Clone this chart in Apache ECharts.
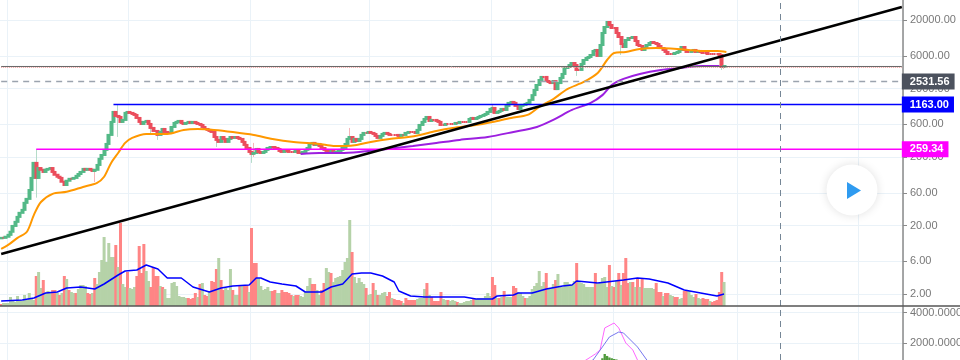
<!DOCTYPE html>
<html>
<head>
<meta charset="utf-8">
<script src="https://cdn.jsdelivr.net/npm/echarts@6/dist/echarts.min.js"></script>
<style>
	html, body { margin: 0; padding: 0; background: #fff; }
	#chart { width: 960px; height: 360px; }
</style>
</head>
<body>
<div id="chart"></div>
<script>
// price pane, one close per week
var closes = [
	13.2, 13.2, 13.7, 14.6, 16.2, 19.7, 22.6, 26.7, 30.6, 33.8,
	42.8, 48.9, 66, 99, 164, 99, 138, 130, 121, 130,
	134, 138, 121, 110, 103, 99, 87, 78, 90, 96,
	96, 99, 106, 113, 121, 134, 130, 134, 130, 125,
	130, 153, 188, 214, 254, 310, 420, 650, 909, 795,
	768, 650, 695, 880, 909, 880, 850, 822, 743, 650,
	607, 650, 672, 607, 531, 480, 480, 420, 464, 513,
	464, 449, 449, 549, 628, 650, 672, 628, 607, 628,
	650, 628, 650, 628, 607, 587, 549, 513, 497, 480,
	464, 392, 355, 332, 392, 367, 332, 367, 392, 380,
	392, 380, 367, 332, 300, 271, 237, 222, 229, 262,
	237, 229, 237, 254, 271, 280, 280, 271, 262, 245,
	237, 245, 245, 237, 237, 237, 245, 229, 229, 237,
	254, 271, 310, 321, 300, 310, 290, 271, 254, 245,
	237, 245, 229, 237, 245, 254, 271, 310, 367, 392,
	332, 367, 343, 367, 420, 449, 449, 464, 449, 434,
	406, 380, 406, 434, 449, 434, 420, 420, 420, 420,
	406, 420, 420, 449, 464, 464, 464, 449, 497, 587,
	650, 718, 768, 672, 695, 695, 672, 650, 587, 587,
	607, 607, 607, 607, 628, 628, 650, 650, 650, 650,
	718, 743, 718, 743, 768, 795, 822, 850, 909, 1006,
	1040, 880, 909, 941, 1006, 973, 1113, 1231, 1273, 1231,
	1113, 1006, 1113, 1151, 1191, 1231, 1362, 1600, 1900, 2250,
	2660, 2950, 2950, 2570, 2490, 2400, 2570, 1960, 2400, 2850,
	3260, 3980, 4120, 4400, 4710, 4400, 3730, 3730, 4560, 5210,
	5580, 5770, 6170, 7060, 7300, 5970, 8630, 12920, 15800, 18700,
	16900, 15280, 15280, 12920, 11290, 8920, 8070, 10210, 10920, 10920,
	11290, 9870, 8630, 8340, 7300, 7800, 8630, 9230, 9550, 9230,
	8920, 8340, 7800, 7300, 6830, 6380, 6380, 6380, 6600, 6830,
	7300, 8070, 7300, 6830, 6830, 7060, 7300, 6830, 7060, 6830,
	6600, 6600, 6380, 6380, 6380, 6380, 6380, 6170, 4120, 4260
];
var firstOpen = 13;
// [week, low, high] for the long shadows
var wicks = [
	[15, 51, 262], [40, 86, 130], [50, 392, 1151], [64, 434, 549], [67, 355, 464],
	[92, 280, 392], [107, 164, 237], [108, 200, 321], [149, 367, 531],
	[210, 880, 1191], [246, 3050, 4400], [265, 6170, 10000], [308, 3730, 6170], [309, 3850, 4400]
];
var volumes = [
	2, 3, 3, 3, 9, 5, 4, 10, 6, 5, 11, 6, 13, 8, 6, 30, 34, 18, 26, 13,
	15, 13, 16, 16, 13, 11, 13, 30, 27, 16, 14, 13, 13, 17, 21, 21, 20, 13, 12, 13,
	28, 22, 34, 46, 69, 44, 63, 49, 49, 61, 39, 83, 22, 19, 34, 18, 17, 19, 30, 60,
	33, 62, 35, 25, 19, 39, 30, 30, 20, 19, 17, 8, 8, 23, 24, 20, 10, 9, 9, 8,
	8, 7, 8, 13, 9, 22, 23, 11, 10, 15, 25, 24, 37, 48, 26, 16, 18, 16, 37, 16,
	11, 11, 21, 21, 21, 21, 14, 78, 43, 43, 28, 20, 16, 17, 19, 15, 15, 16, 13, 13,
	16, 14, 14, 13, 11, 10, 11, 11, 10, 9, 14, 20, 28, 22, 22, 16, 11,
	16, 23, 38, 34, 33, 24, 28, 29, 30, 36, 44, 48, 86, 54, 29, 23, 28, 24, 22, 18,
	11, 12, 23, 16, 11, 11, 13, 14, 10, 14, 8, 7, 6, 6, 5, 3, 8, 6, 6, 6,
	6, 7, 8, 8, 17, 23, 11, 9, 5, 5, 5, 14, 7, 6, 6, 5, 6, 5, 4, 3,
	3, 4, 5, 5, 6, 7, 7, 8, 8, 8, 10, 13, 10, 29, 21, 8, 8, 9, 15, 9,
	9, 9, 20, 18, 14, 13, 10, 8, 8, 10, 17, 20, 23, 35, 20, 24, 33, 18, 18, 22,
	26, 32, 20, 19, 24, 24, 22, 21, 25, 43, 24, 23, 22, 19, 19, 19, 19, 33, 22, 24,
	28, 29, 19, 41, 20, 19, 25, 33, 21, 33, 48, 23, 24, 24, 19, 28, 19,
	28, 18, 18, 18, 18, 17, 23, 14, 14, 10, 13, 13, 11, 10, 9, 9, 7, 8, 15, 15,
	15, 11, 9, 12, 8, 7, 8, 7, 7, 5, 4, 5, 6, 14, 34, 24
];
var volumeRed = [
	0, 15, 18, 22, 23, 25, 27, 29, 32, 37, 38, 40, 49, 51, 54, 58, 59, 60, 61, 64, 65, 66, 67, 69,
	80, 81, 82, 83, 85, 87, 88, 90, 91, 92, 94, 95, 99, 102, 104, 105, 107, 108, 109,
	116, 117, 120, 121, 122, 123, 124, 126, 127, 133, 134, 137, 138, 141, 150, 156, 159, 161,
	165, 166, 168, 169, 170, 171, 173, 174, 175, 176, 177, 182, 184, 185, 186, 187, 188, 191, 195,
	202, 210, 211, 213, 215, 219, 220, 224, 233, 237, 246, 254, 260, 262, 264, 266, 267, 268, 270,
	272, 274, 280, 281, 282, 284, 285, 288, 289, 292, 293, 297, 300, 301, 302, 304, 305, 306, 307, 308
];

// moving averages, [week, value] read at the bends
var orangeWeeks = [0, 3, 7, 11, 14, 17, 22, 28, 35, 41, 44, 47, 50, 53, 56, 62, 71, 78, 84, 91, 99, 108, 116, 125, 136, 142, 147, 152, 158, 166, 174, 179, 186, 193, 203, 210, 218, 225, 230, 236, 242, 249, 255, 259, 262, 267, 273, 280, 289, 299, 306, 310];
var orangeValues = [9.1, 10.4, 13.2, 16.2, 28.6, 44, 58, 62, 73, 84, 103, 164, 229, 321, 380, 434, 434, 497, 513, 497, 464, 420, 367, 332, 310, 290, 290, 300, 332, 367, 392, 420, 480, 531, 587, 650, 743, 822, 1076, 1400, 1960, 2490, 3370, 5210, 6600, 6830, 7550, 7800, 7550, 7060, 7060, 6830];
var purpleWeeks = [128, 136, 145, 153, 165, 176, 186, 196, 208, 219, 229, 236, 244, 252, 257, 261, 266, 273, 282, 290, 300, 307];
var purpleValues = [222, 229, 229, 237, 262, 290, 321, 355, 392, 464, 549, 695, 973, 1231, 1600, 2250, 2760, 3260, 3730, 3980, 4260, 4260];
var volMaWeeks = [0, 9, 14, 19, 24, 28, 34, 40, 44, 50, 53, 58, 62, 67, 71, 77, 82, 89, 94, 99, 106, 109, 111, 115, 120, 126, 130, 137, 141, 146, 150, 154, 158, 163, 168, 170, 175, 181, 188, 198, 203, 210, 212, 219, 221, 227, 233, 240, 244, 246, 255, 266, 272, 277, 285, 292, 299, 306, 309];
var volMaValues = [5, 6, 8, 13, 14, 18, 19, 17, 22, 31, 35, 36, 41, 37, 28, 28, 19, 14, 18, 20, 21, 28, 28, 24, 22, 20, 14, 14, 19, 22, 32, 33, 33, 30, 24, 15, 10, 9, 9, 9, 7, 7, 10, 11, 13, 13, 17, 20, 21, 25, 23, 26, 28, 27, 23, 16, 13, 10, 12];

// drawn lines
var trendWeeks = [0, 385];
var trendValues = [7.67, 30960];
var blueLevel = 1163.00;
var blueStart = 48;
var magentaLevel = 259.34;
var magentaStart = 15;
var lastLevel = 2531.56;
var greyLevel = 4190;
var redDotLevel = 4050;
var cursorWeek = 333;

// lower pane
var fastWeeks = [247, 250, 252, 254, 256, 258, 262, 264, 267, 270, 272, 273];
var fastValues = [600, 885, 1082, 1280, 1540, 2985, 3310, 2985, 2000, 1540, 885, 690];
var slowWeeks = [249, 253, 257, 260, 264, 266, 272, 276, 278];
var slowValues = [600, 885, 1740, 2395, 2720, 2660, 1740, 885, 600];
var histWeeks = [257, 258, 259, 260, 261, 262, 263];
var histValues = [1000, 1280, 1150, 1050, 1000, 950, 920];

var priceTicks = [20000, 6000, 2000, 600, 200, 60, 20, 6, 2];
var lowerTicks = [4000, 2000];
var gridWeeks = [3, 55, 107, 158, 210, 262, 315, 367];
var weekCount = 386;

var green = '#53b987', red = '#eb4d5c';

var weeks = [];
for (var i = 0; i < weekCount; i++) {
	weeks.push(String(i));
}

var bodyData = [], wickData = [];
for (var i = 0; i < closes.length; i++) {
	var o = i == 0 ? firstOpen : closes[i - 1];
	var c = closes[i];
	var lo = Math.min(o, c), hi = Math.max(o, c);
	bodyData.push([o, c, lo, hi]);
	wickData.push([o, c, lo, hi]);
}
wicks.forEach(function(w) {
	wickData[w[0]][2] = w[1];
	wickData[w[0]][3] = w[2];
});

var volumeData = volumes.map(function(v, i) {
	return {
		value: v,
		itemStyle: { color: volumeRed.indexOf(i) >= 0 ? '#ff8585' : '#b5d2a8' }
	};
});

function pairs(xs, ys) {
	return xs.map(function(x, i) {
		return [x, ys[i]];
	});
}

function maLine(name, xs, ys, color, width, xIdx, yIdx, smooth) {
	return {
		name: name,
		type: 'line',
		xAxisIndex: xIdx,
		yAxisIndex: yIdx,
		data: pairs(xs, ys),
		symbol: 'none',
		smooth: smooth,
		lineStyle: { color: color, width: width },
		silent: true
	};
}

function levelLine(name, start, level, color, width, dash, tagColor) {
	var s = {
		name: name,
		type: 'line',
		xAxisIndex: 0,
		yAxisIndex: 0,
		data: [[start, level], [weekCount - 1, level]],
		symbol: 'none',
		lineStyle: { color: color, width: width, type: dash },
		silent: true
	};
	if (tagColor) {
		s.endLabel = {
			show: true,
			distance: 0,
			formatter: function(p) {
				return p.value[1].toFixed(2);
			},
			color: '#fff',
			fontFamily: 'Liberation Sans',
			fontSize: 11,
			fontWeight: 'bold',
			backgroundColor: tagColor,
			padding: [3, 5, 2, 8]
		};
	}
	return s;
}

function xAxisFor(grid) {
	return {
		type: 'category',
		gridIndex: grid,
		data: weeks,
		axisLine: { show: false },
		axisTick: { show: false },
		axisLabel: { show: false },
		splitLine: {
			show: grid != 1,
			interval: function(idx) {
				return gridWeeks.indexOf(idx) >= 0;
			},
			lineStyle: { color: '#eaf2f8', width: 1 }
		}
	};
}

function yAxisFor(grid, ticks, digits, extra) {
	var ax = {
		gridIndex: grid,
		position: 'right',
		axisLine: { show: true, onZero: false, lineStyle: { color: '#8a8a8a', width: 1.5 } },
		axisTick: { show: true, length: 4, customValues: ticks, lineStyle: { color: '#8a8a8a' } },
		axisLabel: {
			show: true,
			margin: 7,
			padding: [2, 0, 0, 0],
			customValues: ticks,
			color: '#787878',
			fontFamily: 'Liberation Sans',
			fontSize: 11,
			formatter: function(v) {
				return Number(v).toFixed(digits);
			}
		},
		splitLine: { show: true, lineStyle: { color: '#eaf2f8', width: 1 } }
	};
	return Object.assign(ax, extra);
}

var option = {
	backgroundColor: '#fff',
	animation: false,
	grid: [
		{ left: 0, right: 57, top: 0, height: 306, outerBoundsMode: 'none' },
		{ left: 0, right: 57, top: 206, height: 100, outerBoundsMode: 'none' },
		{ left: 0, right: 57, top: 307, height: 53, outerBoundsMode: 'none' }
	],
	xAxis: [xAxisFor(0), xAxisFor(1), xAxisFor(2)],
	yAxis: [
		yAxisFor(0, priceTicks, 2, { type: 'log', logBase: 10, min: 1.336, max: 39150 }),
		{ type: 'value', gridIndex: 1, min: 0, max: 100, show: false },
		yAxisFor(2, lowerTicks, 4, { type: 'value', min: 885, max: 4360 })
	],
	series: [
		{
			name: 'volume',
			type: 'bar',
			xAxisIndex: 1,
			yAxisIndex: 1,
			data: volumeData,
			barWidth: 3,
			silent: true
		},
		maLine('volume ma', volMaWeeks, volMaValues, '#0000ff', 1.5, 1, 1, false),
		{
			name: 'wicks',
			type: 'candlestick',
			xAxisIndex: 0,
			yAxisIndex: 0,
			data: wickData,
			barWidth: 1,
			itemStyle: { color: '#f5b5ba', color0: '#b5dcc9', borderColor: '#f5b5ba', borderColor0: '#b5dcc9', borderWidth: 1 },
			silent: true
		},
		{
			name: 'bodies',
			type: 'candlestick',
			xAxisIndex: 0,
			yAxisIndex: 0,
			data: bodyData,
			barWidth: 2.5,
			// up weeks green, down weeks red
			itemStyle: { color: green, color0: red, borderColor: green, borderColor0: red, borderColorDoji: red, borderWidth: 2 },
			silent: true
		},
		maLine('ma 1', orangeWeeks, orangeValues, '#ff9800', 2, 0, 0, 0.3),
		maLine('ma 2', purpleWeeks, purpleValues, '#9c1fe0', 2, 0, 0, 0.3),
		levelLine('grey', 0, greyLevel, '#666', 1, 'solid'),
		levelLine('red dots', 0, redDotLevel, '#f0a0a0', 1, 'dotted'),
		levelLine('last', 0, lastLevel, '#9ba3ae', 1.5, [6, 5], '#4c525e'),
		levelLine('blue', blueStart, blueLevel, '#0000ff', 1.5, 'solid', '#0000ff'),
		levelLine('magenta', magentaStart, magentaLevel, '#ff00ff', 1.5, 'solid', '#ff00ff'),
		maLine('trend', trendWeeks, trendValues, '#000', 2.5, 0, 0, false),
		{
			name: 'cursor',
			type: 'line',
			xAxisIndex: 0,
			yAxisIndex: 0,
			data: [],
			markLine: {
				silent: true,
				symbol: 'none',
				label: { show: false },
				lineStyle: { color: '#758696', width: 1, type: [6, 5] },
				data: [{ xAxis: cursorWeek }]
			}
		},
		{
			name: 'cursor lower',
			type: 'line',
			xAxisIndex: 2,
			yAxisIndex: 2,
			data: [],
			markLine: {
				silent: true,
				symbol: 'none',
				label: { show: false },
				lineStyle: { color: '#758696', width: 1, type: [6, 5] },
				data: [{ xAxis: cursorWeek }]
			}
		},
		{
			name: 'hist',
			type: 'bar',
			xAxisIndex: 2,
			yAxisIndex: 2,
			data: pairs(histWeeks, histValues),
			barWidth: '100%',
			itemStyle: { color: '#4f9a3c' },
			silent: true
		},
		maLine('fast', fastWeeks, fastValues, '#ff66ff', 1, 2, 2, false),
		maLine('slow', slowWeeks, slowValues, '#7777ee', 1, 2, 2, false)
	],
	graphic: [
		{
			type: 'line',
			z: 50,
			shape: { x1: 0, y1: 306, x2: 960, y2: 306 },
			style: { stroke: '#555', lineWidth: 1.5 }
		},
		{
			type: 'circle',
			z: 60,
			shape: { cx: 852, cy: 190, r: 25.5 },
			style: { fill: '#fff', shadowBlur: 10, shadowColor: 'rgba(0,0,0,0.12)' }
		},
		{
			type: 'polygon',
			z: 61,
			shape: { points: [[847, 182], [861, 190.5], [847, 199]] },
			style: { fill: '#2f9bf0' }
		}
	]
};

var myChart = echarts.init(document.getElementById('chart'));
myChart.setOption(option);
</script>
</body>
</html>
